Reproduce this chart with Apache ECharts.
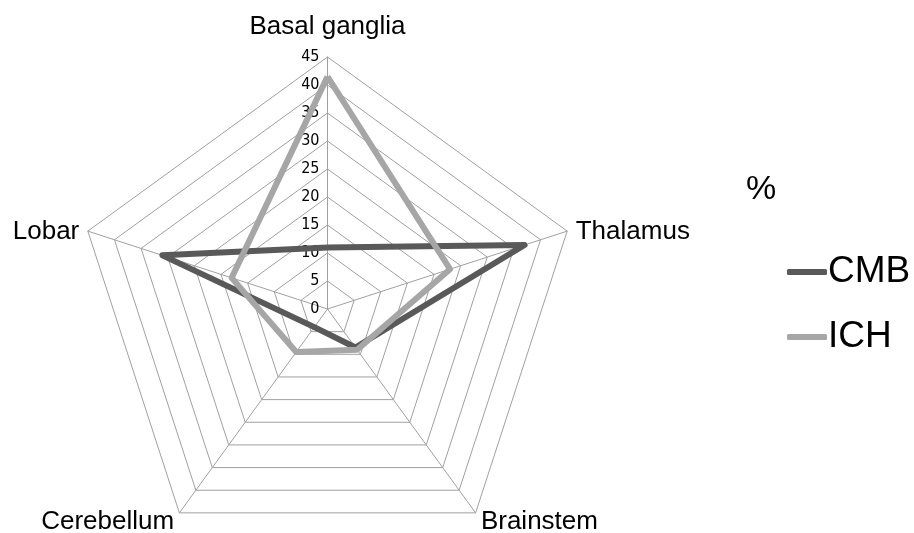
<!DOCTYPE html>
<html>
<head>
<meta charset="utf-8">
<script src="https://cdn.jsdelivr.net/npm/echarts@6/dist/echarts.min.js"></script>
<style>
  html, body { margin: 0; padding: 0; background: #fff; }
  #main { width: 914px; height: 533px; }
</style>
</head>
<body>
<div id="main"></div>
<script>
// regions, counterclockwise from the top
var regions = ['Basal ganglia', 'Lobar', 'Cerebellum', 'Brainstem', 'Thalamus']
var cmbValues = [11, 31, 4, 8.5, 37]
var ichValues = [41.5, 18, 9.5, 9, 23]
var axisMax = 45

var myChart = echarts.init(document.getElementById('main'))

var indicators = []
for (var i = 0; i < regions.length; i++) {
  var ind = { name: regions[i], min: 0, max: axisMax }
  // only the top axis carries the tick labels
  if (i === 0) {
    ind.axisLabel = {
      show: true,
      color: '#000',
      fontFamily: 'DejaVu Sans Condensed',
      fontSize: 16
    }
  }
  indicators.push(ind)
}

var option = {
  animation: false,
  title: {
    text: '%',
    left: 741,
    top: 168,
    textStyle: { fontFamily: 'Liberation Sans', fontSize: 34, fontWeight: 'normal', color: '#000' }
  },
  legend: {
    orient: 'vertical',
    left: 782,
    top: 246,
    itemWidth: 40,
    itemHeight: 6,
    itemGap: 23,
    icon: 'roundRect',
    textStyle: { fontFamily: 'Liberation Sans', fontSize: 37, color: '#000', lineHeight: 42, padding: [0, 0, 0, -4] },
    data: ['CMB', 'ICH']
  },
  radar: {
    center: [327.5, 309],
    radius: 252,
    startAngle: 90,
    shape: 'polygon',
    splitNumber: 9,
    indicator: indicators,
    axisName: {
      color: '#000',
      fontFamily: 'Liberation Sans',
      fontSize: 26,
      formatter: function (name) {
        if (name === regions[0]) return '{top|' + name + '}'
        if (name === regions[2] || name === regions[3]) return '{low|' + name + '}'
        return '{side|' + name + '}'
      },
      rich: {
        top: { fontFamily: 'Liberation Sans', fontSize: 26, color: '#000', padding: [0, 0, 8, 0] },
        side: { fontFamily: 'Liberation Sans', fontSize: 26, color: '#000', padding: [6, 0, 0, 0] },
        low: { fontFamily: 'Liberation Sans', fontSize: 26, color: '#000', padding: [3, 0, 0, 0] }
      }
    },
    nameGap: 9,
    axisLine: { lineStyle: { color: '#a0a0a0', width: 1 } },
    splitLine: { lineStyle: { color: '#a0a0a0', width: 1 } },
    splitArea: { show: false },
    axisTick: { show: false },
    axisLabel: { show: false }
  },
  series: [{
    type: 'radar',
    symbol: 'none',
    data: [
      { name: 'CMB', value: cmbValues, lineStyle: { color: '#595959', width: 6 }, itemStyle: { color: '#595959' } },
      { name: 'ICH', value: ichValues, lineStyle: { color: '#a6a6a6', width: 6 }, itemStyle: { color: '#a6a6a6' } }
    ]
  }]
}

option && myChart.setOption(option)
</script>
</body>
</html>
